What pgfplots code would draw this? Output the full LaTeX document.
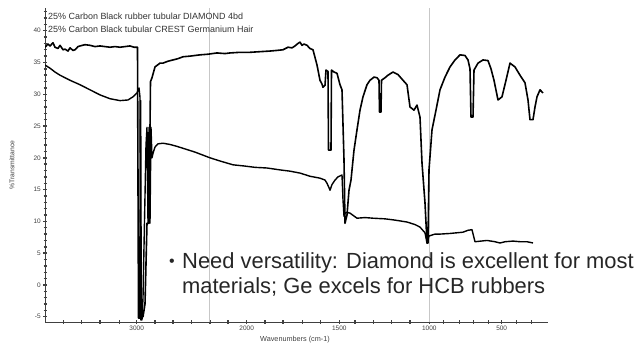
\documentclass[border=0pt]{standalone}
\usepackage{fontspec}
\setmainfont{Liberation Sans}
\usepackage{pgfplots}
\pgfplotsset{compat=1.18}
\begin{document}
\begin{tikzpicture}
\path[use as bounding box] (0,0) rectangle (640bp,344bp);
\begin{axis}[
  at={(45bp,22bp)}, anchor=south west,
  x=1bp, y=6.356bp,
  xmin=45, xmax=548, ymin=-5.83, ymax=43.6,
  axis lines*=left,
  axis line style={line width=1bp, black!75},
  tick align=center,
  major tick length=3.5bp, minor tick length=3bp,
  every tick/.style={black!75, line width=1.4bp},
  xtick={136.7,246.7,339.3,429.3,501.7},
  xticklabels={3000,2000,1500,1000,500},
  minor xtick={43.3,63.3,81.7,100,119.3,155,173,191.7,210,228,265,283,302.7,320.7,355,373.3,391.7,410,443.3,459.3,473.3,488.3,516.7,531.7},
  ytick={-5,0,5,10,15,20,25,30,35,40},
  minor ytick={-4,-3,-2,-1,1,2,3,4,6,7,8,9,11,12,13,14,16,17,18,19,21,22,23,24,26,27,28,29,31,32,33,34,36,37,38,39,41,42,43},
  /pgf/number format/assume math mode=true,
  tick label style={font=\fontsize{6.5}{7}\selectfont, text=black!75},
  xticklabel style={yshift=1bp},
  yticklabel style={xshift=1bp},
]
% grey reference lines
\addplot[black!22, line width=1.1bp] coordinates {(209.5,-5.83) (209.5,43.6)};
\addplot[black!22, line width=1.1bp] coordinates {(429.5,-5.83) (429.5,43.6)};
% upper spectrum (diamond)
\addplot[black, line width=1.6bp, line join=round] coordinates {
(45,37.4)(48,37.9)(50,37.6)(53,38.1)(55,37.4)(58,37.2)(60,37.7)(63,37.0)(65,37.1)(68,36.8)(70,37.3)(73,36.9)(75,37.0)(78,37.5)(80,37.6)(85,37.8)(90,37.7)(95,37.5)(100,37.6)(105,37.5)(110,37.4)(115,37.5)(120,37.4)(125,37.5)(130,37.6)(134,37.4)(137.5,37.4)
(138.5,-5.2)(140,-5.2)(140.6,29)(141.2,-5)(143,-5)(145,-3)(147,9.7)(149,9.7)(150.5,32)(152,32.6)
(155,34.3)(160,34.9)(163,34.9)(168,35.2)(173,35.4)(178,35.6)(183,35.9)(190,36.0)(200,36.2)(208,36.3)(217,36.5)(225,36.4)(230,36.5)(240,36.6)(250,36.6)(260,36.7)(270,36.8)(277,36.9)(283,37.0)(288,37.4)(292,37.3)(295,37.6)(298,38.0)(300,38.2)(302,37.7)(304,37.9)(307,37.7)(310,37.2)(313,37.0)(315,35.8)(317,34.6)(320,32.2)(322,31.6)(323,31.1)(325,31.4)(326,33.8)(328,33.6)(328.5,21.2)(331,21.2)(331.5,33.8)(334,33.5)(337,33.3)(340,31.5)(342,30.7)(344,19.7)(345,9.7)(347,11.0)(349,14.9)(351,16.5)(354,21.2)(357,24.4)(360,27.5)(363,29.6)(367,31.5)(370,32.2)(374,32.7)(377,32.6)(379,32.2)(379.5,27.2)(381,27.2)(381.5,32.2)(385,32.6)(388,33.0)(393,33.5)(398,33.1)(403,32.2)(407,31.5)(410,28.0)(414,27.5)(417,28.3)(420,26.4)(422,19.2)(425,12.9)(427,6.6)(428,6.6)(429,18.1)(432,24.4)(436,27.5)(440,30.7)(445,32.7)(450,34.3)(455,35.4)(460,36.2)(465,36.1)(468,35.4)(470,34.0)(471,26.4)(473,26.4)(474,33.8)(478,34.9)(483,35.4)(488,35.3)(491,34.0)(494,32.2)(498,29.1)(502,29.6)(506,32.2)(510,34.9)(515,34.3)(520,33.0)(525,31.8)(528,29.1)(530,26.0)(533,26.0)(535,28.0)(537,29.6)(540,30.7)(543,30.2)
};
% lower spectrum (germanium)
\addplot[black, line width=1.4bp, line join=round] coordinates {
(45,34.6)(50,34.1)(55,33.5)(60,33.0)(70,32.2)(80,31.5)(90,30.7)(100,29.9)(110,29.3)(120,29.0)(128,29.1)(133,29.6)(137,30.2)(139,31.0)(140,29.5)
(140.8,-5.5)(142,-5.5)(143,-2)(144.5,10)(146,22)(147,24.8)(148,9.7)(149,24.8)(150,9.7)(151,24.8)(152,20)(153,20.7)
(155,21.7)(158,22.2)(163,22.3)(170,22.1)(177,21.8)(183,21.5)(195,20.9)(210,20.0)(220,19.5)(233,18.9)(245,18.7)(255,18.5)(267,18.4)(280,18.1)(290,17.9)(300,17.6)(310,17.1)(320,16.8)(325,16.5)(327,16.0)(329,15.3)(330,14.9)(332,15.8)(335,16.5)(338,17.0)(342,17.3)(343,13.4)(344,10.8)(345,11.3)(347,11.4)(350,11.3)(357,10.5)(365,10.6)(373,10.5)(385,10.4)(395,10.2)(407,9.9)(415,9.5)(420,9.1)(425,8.2)(427,6.6)(429,7.7)(435,8.0)(440,8.0)(450,8.1)(463,8.3)(468,8.6)(472,8.7)(475,6.8)(487,7.0)(495,6.8)(500,6.6)(505,6.8)(513,6.9)(520,6.8)(527,6.8)(533,6.6)
};
\end{axis}
% legend-like titles
\node[anchor=base west, inner sep=0, font=\fontsize{9}{10}\selectfont, text=black!80] at (48bp,324bp) {25\% Carbon Black rubber tubular DIAMOND 4bd};
\node[anchor=base west, inner sep=0, font=\fontsize{9}{10}\selectfont, text=black!80] at (48bp,311bp) {25\% Carbon Black tubular CREST Germanium Hair};
% axis titles
\node[rotate=90, inner sep=0, font=\fontsize{6.8}{7}\selectfont, text=black!75] at (12bp,179bp) {\%Transmittance};
\node[inner sep=0, font=\fontsize{7.3}{8}\selectfont, text=black!75] at (295bp,4bp) {Wavenumbers (cm-1)};
% annotation
\node[anchor=base west, inner sep=0, font=\fontsize{16}{18}\selectfont, text=black!85] at (169bp,77bp) {•};
\node[anchor=base west, inner sep=0, font=\fontsize{22}{25}\selectfont, text=black!85] at (182bp,75bp) {Need versatility: Diamond is excellent for most};
\node[anchor=base west, inner sep=0, font=\fontsize{22}{25}\selectfont, text=black!85] at (182bp,50bp) {materials; Ge excels for HCB rubbers};
\end{tikzpicture}
\end{document}
